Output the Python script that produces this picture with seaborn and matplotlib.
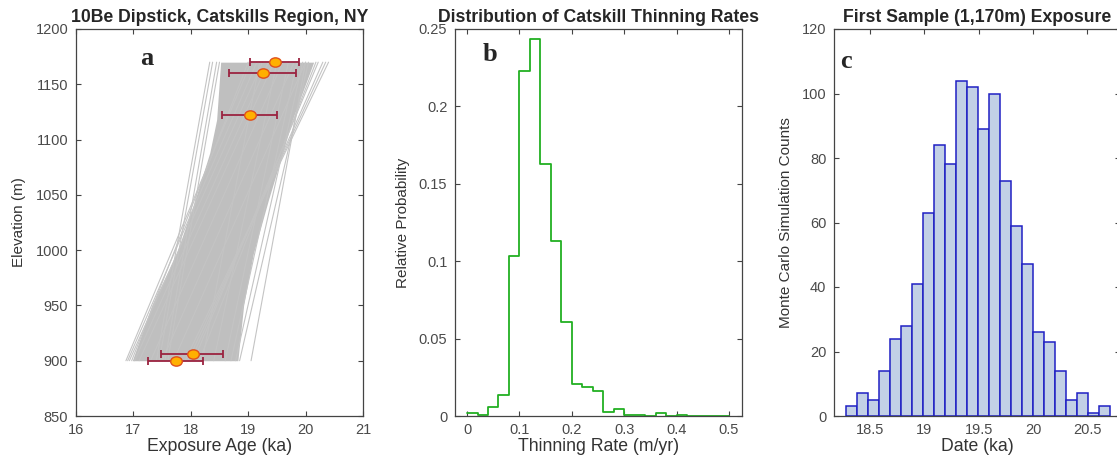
import numpy as np
import pandas as pd
import matplotlib
matplotlib.use("Agg")
import matplotlib.pyplot as plt
from matplotlib.path import Path
import seaborn as sns

# ---- panel a: dipstick samples (age in ka, elevation in m)
sample_elev = [1170, 1160, 1122, 906, 900]
sample_age = [19.46, 19.25, 19.04, 18.03, 17.74]
sample_age_lo = [19.04, 18.67, 18.55, 17.48, 17.25]
sample_age_hi = [19.89, 19.83, 19.50, 18.56, 18.22]

# monte carlo age-elevation lines: age at 900 m and at 1170 m
line_elev = [900, 1170]
line_age_bottom = [16.87, 16.90, 16.93, 16.97, 17.02, 17.10, 17.40, 17.45, 17.55, 17.60,
                   17.90, 17.95, 18.00, 18.05, 18.15, 19.05, 18.85, 18.78, 18.70, 17.30,
                   17.50, 17.70, 18.20, 18.40, 18.60]
line_age_top = [19.05, 19.15, 19.25, 19.00, 19.35, 19.45, 18.33, 18.38, 18.45, 18.50,
                20.40, 20.35, 20.30, 20.22, 20.18, 20.00, 20.05, 19.95, 19.85, 19.60,
                19.80, 20.00, 19.20, 19.50, 19.70]

# dense core of the line bundle
core_elev = [900, 950, 997, 1045, 1088, 1118, 1170]
core_left = [16.98, 17.32, 17.75, 18.07, 18.33, 18.45, 18.52]
core_right = [18.82, 18.92, 19.09, 19.35, 19.6, 19.77, 20.14]

# ---- panel b: thinning rate distribution
rate_edges = [round(0.02 * i, 2) for i in range(26)]
rate_prob = [0.0017, 0.0005, 0.0056, 0.0134, 0.1034, 0.2228, 0.2437, 0.1627, 0.1129, 0.0608,
             0.0205, 0.0185, 0.0162, 0.0024, 0.0045, 0.0004, 0.0004, 0.0001, 0.0017, 0.0,
             0.0004, 0.0001, 0.0, 0.0003, 0.0003]

# ---- panel c: first sample exposure dates
date_edges = list(np.linspace(18.28, 20.705, 25))
date_counts = [3, 7, 5, 14, 24, 28, 41, 63, 84, 78, 104, 102, 89, 100, 73, 59, 47, 26, 23, 14,
               5, 7, 1, 3]

sns.set_style("ticks")
plt.rcParams['font.family'] = ['Liberation Sans', 'DejaVu Sans']

W, H = 1117, 459
fig = plt.figure(figsize=(W / 100, H / 100), dpi=100)

def px_axes(left, right, top, bottom):
    return fig.add_axes([left / W, 1 - bottom / H, (right - left) / W, (bottom - top) / H])

ax_a = px_axes(76, 363, 29, 416)
ax_b = px_axes(455, 742, 29, 416)
ax_c = px_axes(834, 1120, 29, 416)

tick_col = '#4a4a4a'
lab_col = '#333333'

def style(ax):
    for s in ax.spines.values():
        s.set_visible(True)
        s.set_color('#444444')
        s.set_linewidth(0.9)
    ax.tick_params(direction='in', top=True, right=True, length=3.5, width=0.8,
                   colors='#444444', labelcolor=tick_col, labelsize=10.5)
    ax.tick_params(axis='x', pad=5)
    ax.tick_params(axis='y', pad=5.5)
    ax.grid(False)

def centers(edges):
    return [(lo + hi) / 2 for lo, hi in zip(edges[:-1], edges[1:])]

# ---- panel a
lines = pd.DataFrame({
    'run': np.repeat(np.arange(len(line_age_bottom)), 2),
    'age': np.ravel(np.column_stack([line_age_bottom, line_age_top])),
    'elev': np.tile(line_elev, len(line_age_bottom)),
})
ax_a.fill_betweenx(core_elev, core_left, core_right, color='#bfbfbf', lw=0)
sns.lineplot(data=lines, x='age', y='elev', units='run', estimator=None, sort=False,
             color='#c4c4c4', lw=0.8, ax=ax_a)

age = np.array(sample_age)
ax_a.errorbar(sample_age, sample_elev,
              xerr=[age - np.array(sample_age_lo), np.array(sample_age_hi) - age],
              fmt='none', ecolor='#9b2340', elinewidth=1.3, capsize=3, capthick=1.3, zorder=4)
circ = Path.unit_circle()
ellipse = Path(circ.vertices * [1.0, 0.8], circ.codes)
sns.scatterplot(x=sample_age, y=sample_elev, marker=ellipse, s=70, color='#ffb000',
                edgecolor='#e0501c', linewidth=1.0, zorder=5, ax=ax_a)

ax_a.set_xlim(16, 21)
ax_a.set_ylim(850, 1200)
ax_a.set_xticks(range(16, 22))
ax_a.set_yticks(range(850, 1201, 50))
ax_a.set_xlabel('Exposure Age (ka)', fontsize=12.7, color=lab_col, labelpad=1)
ax_a.set_ylabel('Elevation (m)', fontsize=11, color=lab_col, labelpad=7)
ax_a.set_title('10Be Dipstick, Catskills Region, NY', fontsize=12.7, fontweight='bold', pad=5)
style(ax_a)

# ---- panel b
rates = pd.DataFrame({'rate': centers(rate_edges), 'prob': rate_prob})
sns.histplot(data=rates, x='rate', weights='prob', bins=rate_edges,
             element='step', fill=False, color='#22b022', lw=1.3, ax=ax_b)
ax_b.set_xlim(-0.023, 0.525)
ax_b.set_ylim(0, 0.25)
ax_b.set_xticks(np.arange(0, 0.51, 0.1))
ax_b.set_xticklabels(['0', '0.1', '0.2', '0.3', '0.4', '0.5'])
ax_b.set_yticks(np.arange(0, 0.251, 0.05))
ax_b.set_yticklabels(['0', '0.05', '0.1', '0.15', '0.2', '0.25'])
ax_b.set_xlabel('Thinning Rate (m/yr)', fontsize=12.7, color=lab_col, labelpad=1)
ax_b.set_ylabel('Relative Probability', fontsize=11, color=lab_col, labelpad=6)
ax_b.set_title('Distribution of Catskill Thinning Rates', fontsize=12.7, fontweight='bold', pad=5)
style(ax_b)

# ---- panel c
dates = pd.DataFrame({'date': centers(date_edges), 'count': date_counts})
sns.histplot(data=dates, x='date', weights='count', bins=date_edges,
             color='#c2d0e6', edgecolor='#2020c4', linewidth=1.1, alpha=1, ax=ax_c)
ax_c.set_xlim(18.168, 20.80)
ax_c.set_ylim(0, 120)
ax_c.set_xticks([18.5, 19, 19.5, 20, 20.5])
ax_c.set_xticklabels(['18.5', '19', '19.5', '20', '20.5'])
ax_c.set_yticks(range(0, 121, 20))
ax_c.set_xlabel('Date (ka)', fontsize=12.7, color=lab_col, labelpad=1)
ax_c.set_ylabel('Monte Carlo Simulation Counts', fontsize=11, color=lab_col, labelpad=6)
ax_c.set_title('First Sample (1,170m) Exposure', fontsize=12.7, fontweight='bold', pad=5)
style(ax_c)

# panel letters
for ax, letter, x, y in [(ax_a, 'a', 0.247, 0.925), (ax_b, 'b', 0.122, 0.935), (ax_c, 'c', 0.043, 0.915)]:
    ax.text(x, y, letter, transform=ax.transAxes, ha='center', va='center',
            fontsize=19, fontweight='bold', family='Liberation Serif')

fig.savefig('out.png', dpi=100)
